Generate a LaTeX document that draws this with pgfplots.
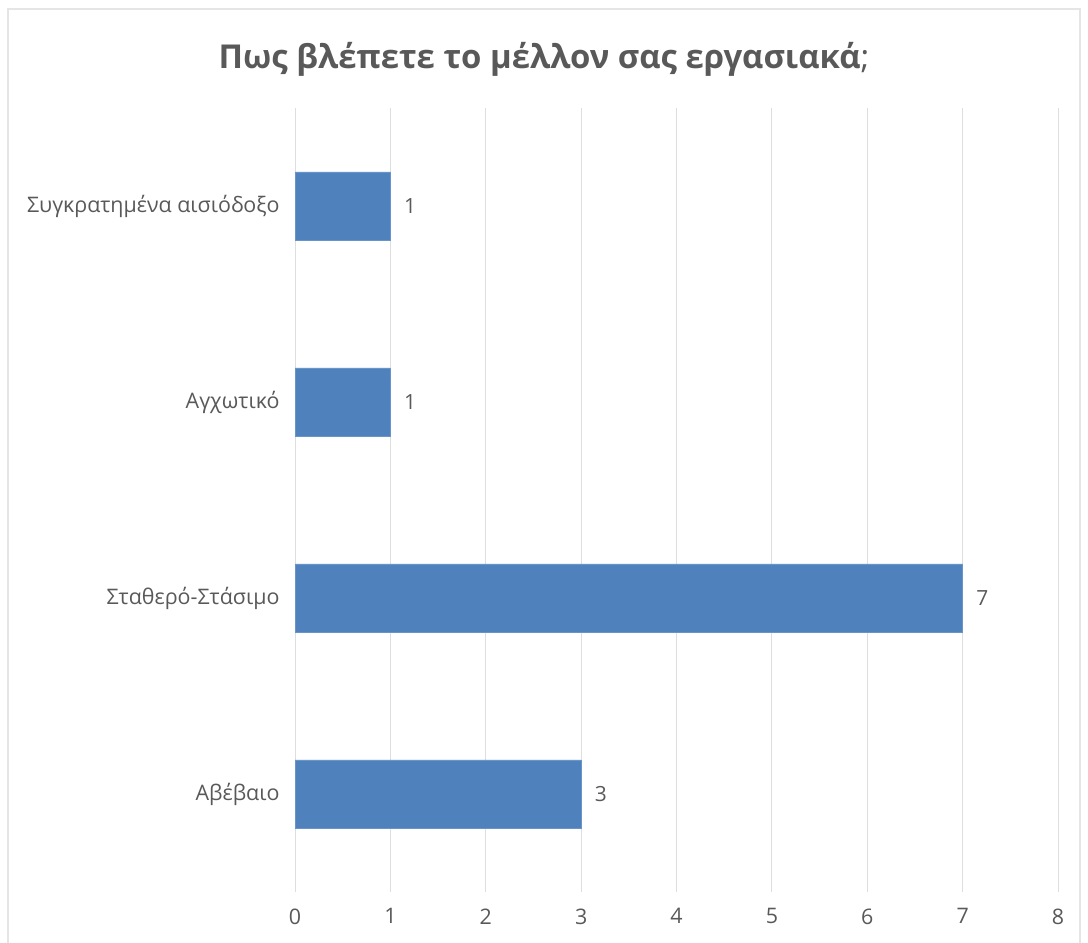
\documentclass[border=0pt]{standalone}
\usepackage{fontspec}
\setmainfont{Open Sans}
\usepackage{pgfplots}
\pgfplotsset{compat=1.18}
\definecolor{barblue}{RGB}{79,129,189}
\definecolor{txt}{RGB}{89,89,89}
\definecolor{gridc}{RGB}{222,222,222}
\begin{document}
\begin{tikzpicture}
\path[use as bounding box] (0,0) rectangle (1088bp,943bp);
\draw[black!10, line width=1.5bp] (8bp,0) -- (8bp,934bp) -- (1080bp,934bp) -- (1080bp,0);
\begin{axis}[at={(295bp,51bp)}, anchor=south west, scale only axis,
  width=763bp, height=784bp,
  xbar, bar width=68bp,
  xmin=0, xmax=8, ymin=-0.5, ymax=3.5,
  ytick={0,1,2,3},
  yticklabels={Αβέβαιο,Σταθερό-Στάσιμο,Αγχωτικό,Συγκρατημένα αισιόδοξο},
  xtick={0,1,2,3,4,5,6,7,8},
  xmajorgrids, grid style={draw=gridc, line width=1bp},
  axis line style={draw=none}, major tick length=0pt,
  tick label style={font=\fontsize{21.5}{25}\selectfont, text=txt},
  xticklabel style={yshift=-13bp},
  yticklabel style={xshift=-12bp},
  /pgf/number format/assume math mode=true,
  nodes near coords,
  nodes near coords style={font=\fontsize{21}{25}\selectfont, text=txt, anchor=west, xshift=10bp},
  ]
\addplot[fill=barblue, draw=barblue!85!white, line width=0.8bp] coordinates {(3,0) (7,1) (1,2) (1,3)};
\end{axis}
\node[text=txt, font=\fontsize{33}{40}\selectfont] at (544bp,884bp) {\textbf{Πως βλέπετε το μέλλον σας εργασιακά};};
\end{tikzpicture}
\end{document}
